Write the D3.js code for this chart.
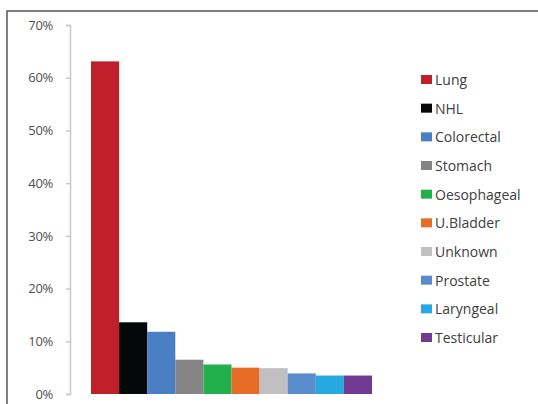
<!DOCTYPE html>
<html><head><meta charset="utf-8">
<script src="https://cdn.jsdelivr.net/npm/d3@7"></script>
<style>
html,body{margin:0;padding:0;background:#fff;}
svg{display:block;}
text{font-family:"Open Sans",Lato,sans-serif;}
</style></head>
<body>
<svg id="chart" width="538" height="404"></svg>
<script>
const categories = ["Lung","NHL","Colorectal","Stomach","Oesophageal","U.Bladder","Unknown","Prostate","Laryngeal","Testicular"];
const values = [63.1, 13.6, 11.8, 6.5, 5.6, 5.0, 4.9, 3.9, 3.5, 3.5];
const colors = ["#c0202a","#050708","#4a7fc4","#848484","#21b04b","#e76c25","#c0c0c0","#5a8ccc","#26a9e0","#713a93"];
const yTicks = [0,10,20,30,40,50,60,70];

const svg = d3.select("#chart");
// frame (top and left edges visible)
svg.append("path").attr("d","M7,404 L7,11 L538,11").attr("fill","none").attr("stroke","#555").attr("stroke-width",1.5);

const y = d3.scaleLinear().domain([0,70]).range([394,25]);
const x = d3.scaleBand().domain(categories).range([91,372]).padding(0);

svg.append("g").selectAll("rect").data(categories).join("rect")
  .attr("x", d=>x(d)).attr("width", x.bandwidth())
  .attr("y", (d,i)=>y(values[i])).attr("height",(d,i)=>y(0)-y(values[i]))
  .attr("fill",(d,i)=>colors[i]);

const yAxis = d3.axisLeft(y).tickValues(yTicks).tickFormat(d=>d+"%").tickSize(4).tickPadding(13);
const gy = svg.append("g").attr("transform","translate(70,0)").call(yAxis);
gy.select(".domain").attr("stroke","#c8c8c8").attr("stroke-width",1.5);
gy.selectAll(".tick line").attr("stroke","#c8c8c8").attr("stroke-width",1.5);
gy.selectAll("text").attr("fill","#505050").attr("font-size",13).attr("letter-spacing",-0.3);

const ly = d3.scalePoint().domain(categories).range([80,338]);
const lg = svg.append("g").selectAll("g").data(categories).join("g")
  .attr("transform", d=>`translate(421,${ly(d)})`);
lg.append("rect").attr("x",0).attr("y",-5).attr("width",11).attr("height",9).attr("fill",(d,i)=>colors[i]);
lg.append("text").attr("x",14).attr("y",0).attr("dy","0.36em").attr("font-size",14).attr("fill","#404040").text(d=>d);
</script>
</body></html>
